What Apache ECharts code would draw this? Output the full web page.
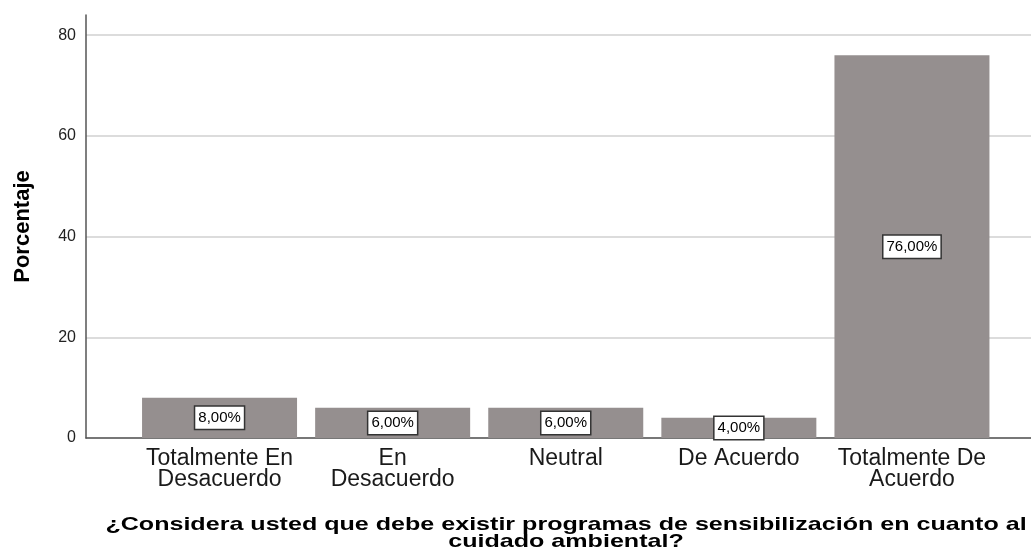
<!DOCTYPE html>
<html>
<head>
<meta charset="utf-8">
<script src="https://cdn.jsdelivr.net/npm/echarts@6/dist/echarts.min.js"></script>
<style>
html,body{margin:0;padding:0;background:#fff;}
#chart{width:1031px;height:557px;}
</style>
</head>
<body>
<div id="chart"></div>
<script>
const categories = ['Totalmente En\nDesacuerdo', 'En\nDesacuerdo', 'Neutral', 'De Acuerdo', 'Totalmente De\nAcuerdo'];
const values = [8, 6, 6, 4, 76];
const yTicks = [0, 20, 40, 60, 80];
const yAxisTitle = 'Porcentaje';
const xAxisTitle = '¿Considera usted que debe existir programas de sensibilización en cuanto al\ncuidado ambiental?';

const chart = echarts.init(document.getElementById('chart'));
const font = '"Liberation Sans", Arial, sans-serif';
chart.setOption({
  animation: false,
  grid: [
    {left: 86, right: 0, top: 15, bottom: 119},
    {left: 133, right: 32.5, top: 15, bottom: 119}
  ],
  xAxis: [
    {gridIndex: 0, type: 'category', data: [''], axisLine: {lineStyle: {color: '#555', width: 1.5}}, axisTick: {show: false}, axisLabel: {show: false}},
    {gridIndex: 1, type: 'category', data: categories, axisLine: {show: false}, axisTick: {show: false},
     axisLabel: {color: '#1a1a1a', fontFamily: font, fontSize: 23, lineHeight: 21, margin: 10, interval: 0}}
  ],
  yAxis: [
    {gridIndex: 0, type: 'value', min: 0, max: 84, interval: 20,
     axisLine: {show: true, lineStyle: {color: '#555', width: 1.5}}, axisTick: {show: false},
     splitLine: {showMaxLine: false, lineStyle: {color: '#d0d0d0', width: 1.5}},
     axisLabel: {color: '#222', fontFamily: font, fontSize: 16, margin: 10, showMaxLabel: false,
       formatter: v => yTicks.includes(v) ? String(v) : ''},
     name: yAxisTitle, nameLocation: 'middle', nameGap: 52, nameRotate: 90,
     nameTextStyle: {color: '#000', fontFamily: font, fontSize: 22, fontWeight: 'bold'}},
    {gridIndex: 1, type: 'value', min: 0, max: 84, show: false, splitLine: {show: false}}
  ],
  graphic: [{
    type: 'text', x: 566, y: 516, scaleX: 1.32,
    style: {text: xAxisTitle, fill: '#000', font: 'bold 19px ' + font, textAlign: 'center', textVerticalAlign: 'top', lineHeight: 17}
  }],
  series: [
    {type: 'bar', xAxisIndex: 0, yAxisIndex: 0, data: []},
    {type: 'bar', xAxisIndex: 1, yAxisIndex: 1, data: values, barWidth: 155,
     itemStyle: {color: '#958f8f'},
     label: {show: true, position: 'inside', formatter: p => p.value.toFixed(2).replace('.', ',') + '%',
       color: '#000', fontFamily: font, fontSize: 15, backgroundColor: '#fff',
       borderColor: '#333', borderWidth: 1.5, padding: [4, 3, 3, 3]}}
  ]
});
</script>
</body>
</html>
